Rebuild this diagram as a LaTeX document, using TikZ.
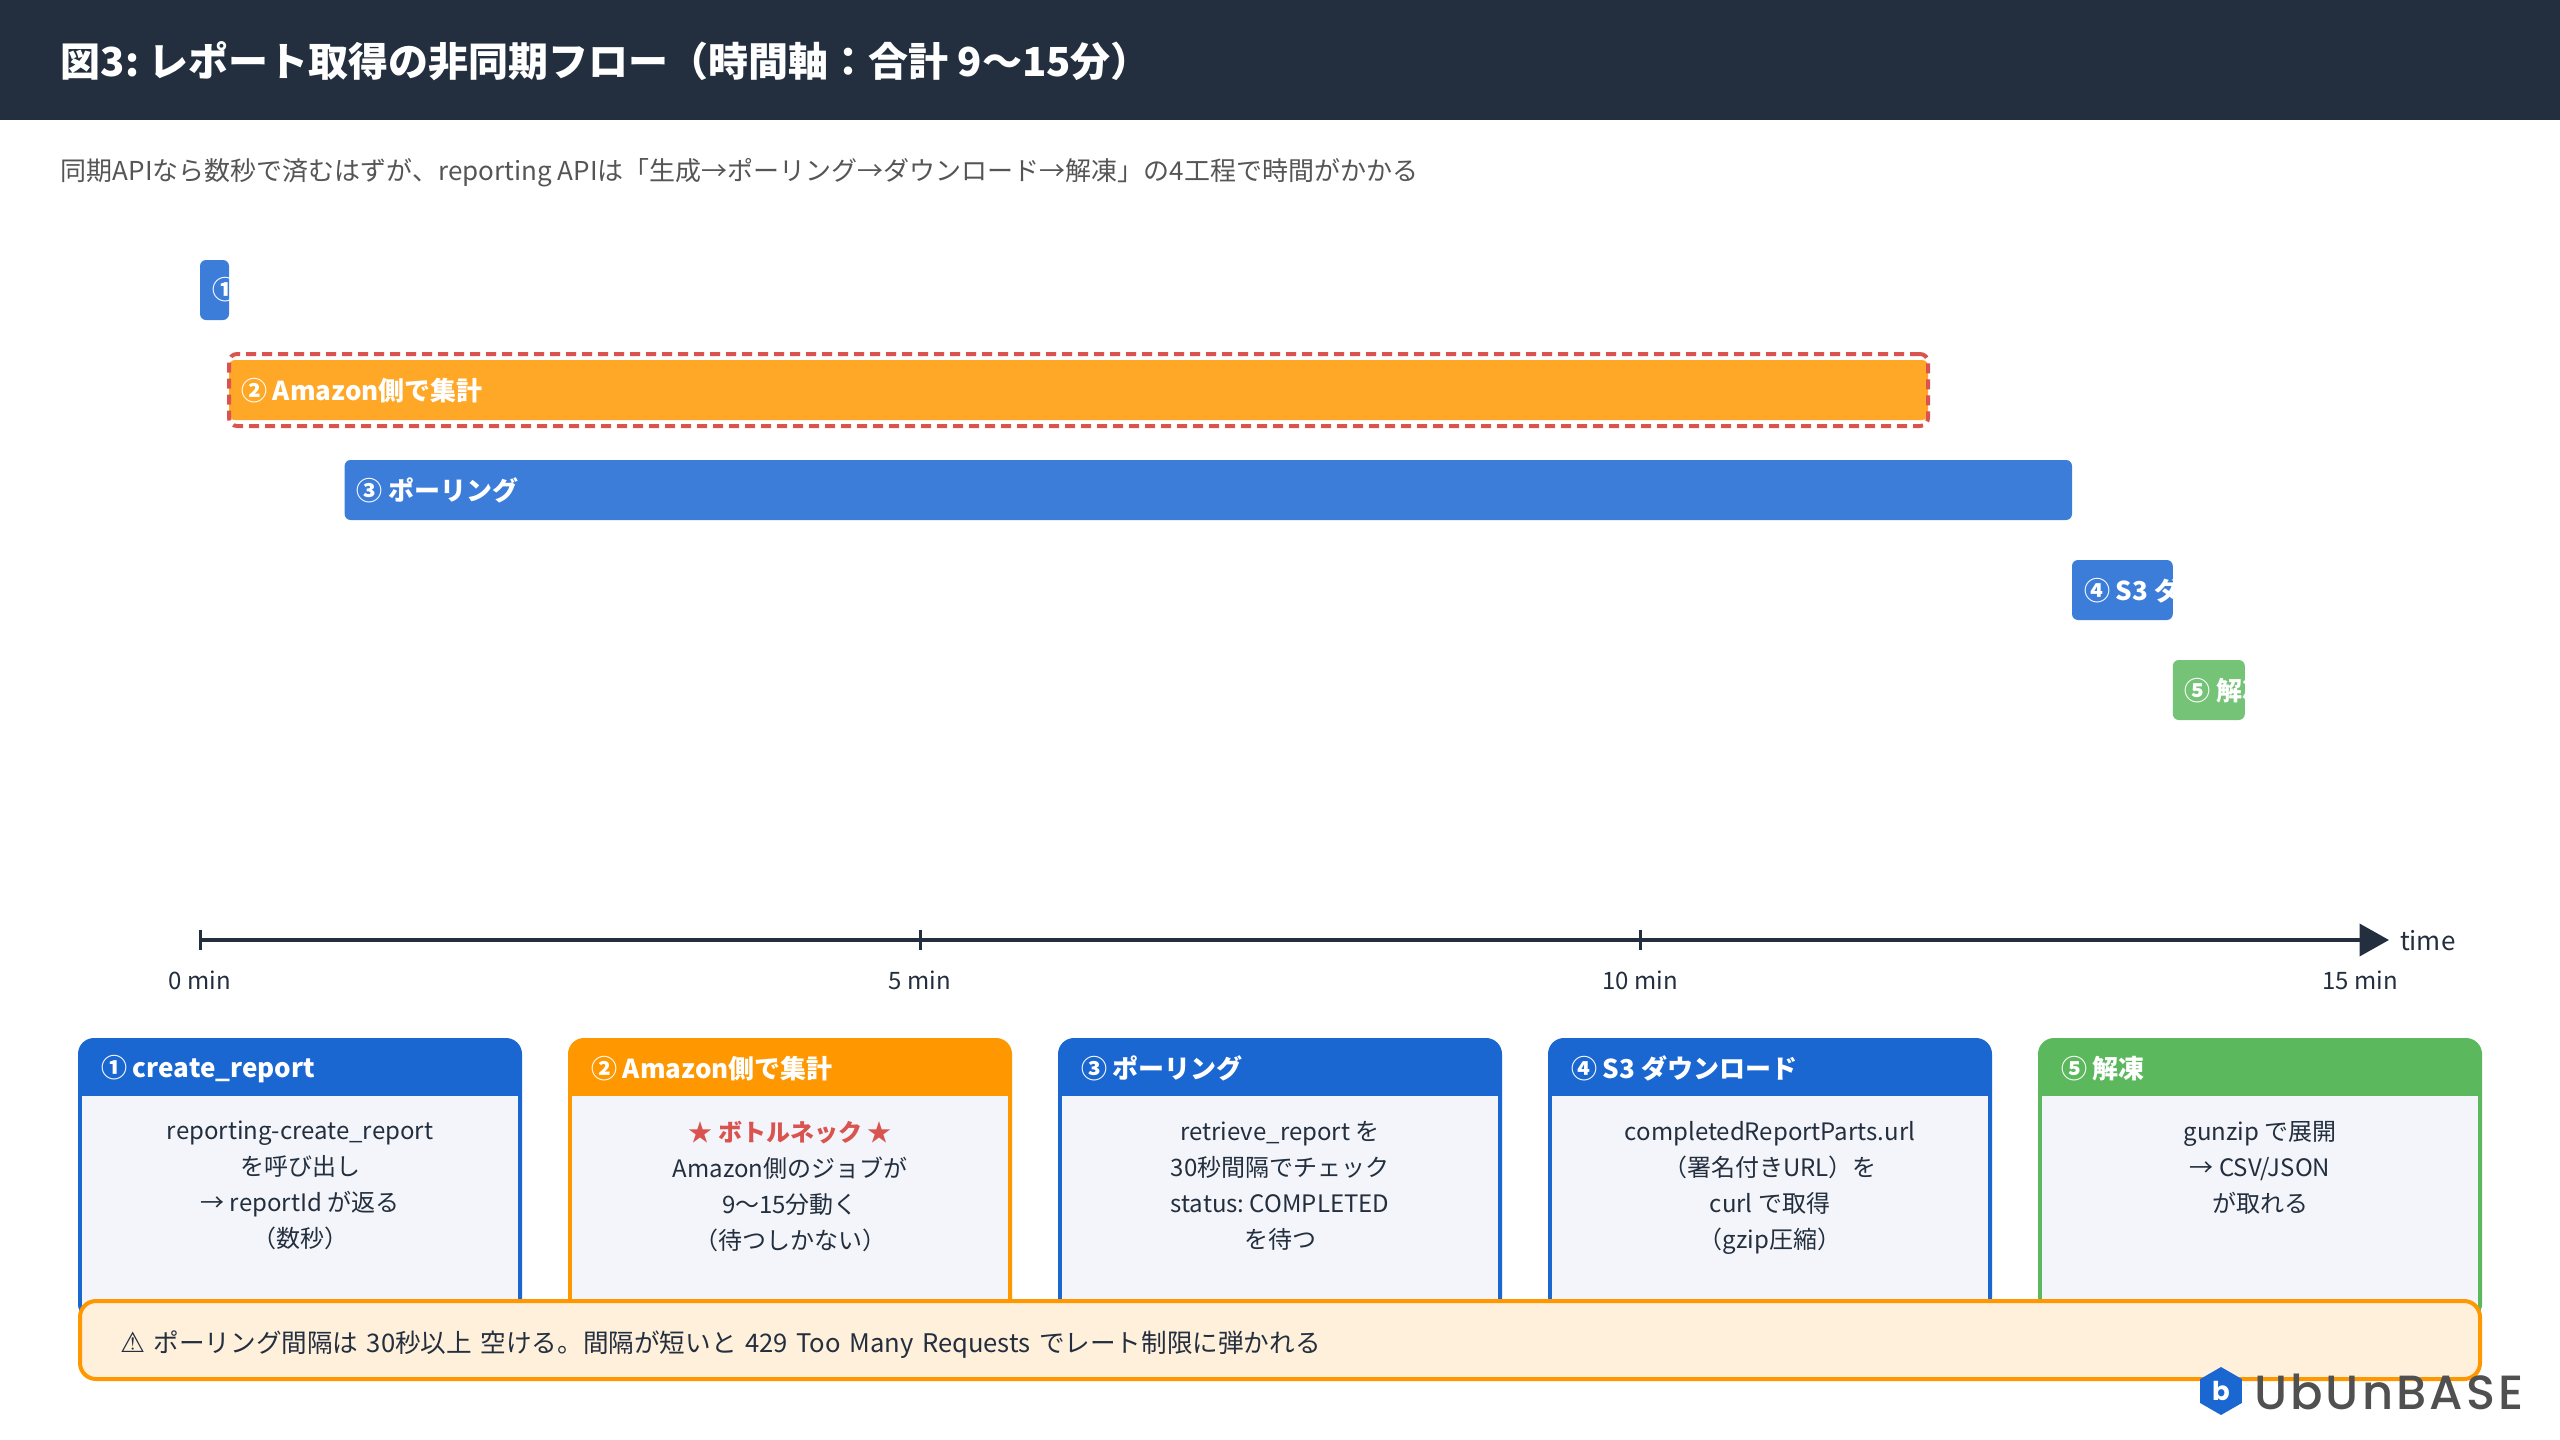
\documentclass[tikz,border=0pt]{standalone}
\usepackage{fontspec}
\usepackage{xcolor}
\usepackage{tikz}
\usetikzlibrary{shapes.geometric,arrows.meta,positioning,fit}
\setmainfont{Noto Sans CJK JP}
\newfontfamily\symfont{DejaVu Sans}
\newfontfamily\logofont{Poppins}
\newfontfamily\wordfont[LetterSpace=6.5]{Poppins Medium}
\definecolor{headdark}{HTML}{232F3E}
\definecolor{subgrey}{HTML}{555555}
\definecolor{barblue}{HTML}{3C7DDA}
\definecolor{barorange}{HTML}{FFA726}
\definecolor{bargreen}{HTML}{74C376}
\definecolor{alertred}{HTML}{D9534F}
\definecolor{cardblue}{HTML}{1A67D2}
\definecolor{cardorange}{HTML}{FF9800}
\definecolor{cardgreen}{HTML}{5CB85C}
\definecolor{bodybg}{HTML}{F3F5FA}
\definecolor{notebg}{HTML}{FFF0DC}
\definecolor{logogrey}{HTML}{505050}
\newcommand{\barlabel}[2]{\node[barlabel] (#1) at ([xshift=6pt,yshift=-0.4pt]path picture bounding box.west) {#2};}

\begin{document}
\frenchspacing
\begin{tikzpicture}[x=1pt, y=-1pt, node distance=23pt, outer sep=0pt]
\tikzstyle{headband} = [rectangle, fill=headdark, minimum width=1280pt, minimum height=60pt, inner sep=0pt, anchor=north west]
\tikzstyle{titletext} = [anchor=west, inner sep=0pt, text=white, font=\fontsize{20}{24}\selectfont\bfseries]
\tikzstyle{subtext} = [anchor=west, inner sep=0pt, text=subgrey, font=\fontsize{13}{16}\selectfont]
\tikzstyle{bar} = [rectangle, rounded corners=3pt, minimum height=30pt, inner sep=0pt, anchor=west]
\tikzstyle{barlabel} = [anchor=west, inner sep=0pt, minimum width=0pt, minimum height=0pt, text=white, font=\fontsize{13}{16}\selectfont\bfseries]
\tikzstyle{bottleneck} = [rectangle, draw=alertred, line width=2pt, dash pattern=on 5pt off 3pt, rounded corners=4pt, inner xsep=0pt, inner ysep=3pt]
\tikzstyle{axisline} = [draw=headdark, line width=2pt, -{Triangle[length=14.75pt,width=16pt]}]
\tikzstyle{axistick} = [draw=headdark, line width=1.5pt]
\tikzstyle{axislabel} = [inner sep=0pt, text=headdark, font=\fontsize{12}{14}\selectfont]
\tikzstyle{card} = [rectangle, rounded corners=8pt, minimum width=222pt, minimum height=141pt]
\tikzstyle{cardbody} = [rectangle, fill=bodybg, minimum width=218pt, minimum height=108pt, anchor=north, inner sep=0pt]
\tikzstyle{cardhead} = [anchor=west, inner sep=0pt, text=white, font=\fontsize{13}{16}\selectfont\bfseries]
\tikzstyle{cardtext} = [anchor=north, inner sep=0pt, align=center, text=headdark, font=\fontsize{12}{18}\selectfont]
\tikzstyle{notebox} = [rectangle, draw=cardorange, fill=notebg, line width=2pt, rounded corners=8pt, minimum width=1200pt, minimum height=39pt, inner xsep=20pt, text width=1160pt, text height=14pt, text depth=2pt, align=left, text=headdark, font=\fontsize{12.8}{16}\selectfont]
\tikzstyle{logomark} = [regular polygon, regular polygon sides=6, shape border rotate=30, fill=cardblue, minimum size=24pt, inner sep=0pt, text=white, font=\logofont\fontsize{13}{13}\selectfont\bfseries]
\tikzstyle{logotext} = [anchor=west, inner sep=0pt, text=logogrey, font=\wordfont\fontsize{24}{24}\selectfont]

\useasboundingbox (0,0) rectangle (1280,720);

\node [headband] (header) at (0,0) {};
\node [titletext] (title) at (30.5,30.6) {図3: レポート取得の非同期フロー（時間軸：合計 9〜15分）};
\node [subtext] (subtitle) at (30.5,86.5) {同期APIなら数秒で済むはずが、reporting APIは「生成→ポーリング→ダウンロード→解凍」の4工程で時間がかかる};

\node [bar, fill=barblue, minimum width=14.5pt, path picture={\barlabel{lab1}{① create\_report}}] (bar1) at (100,145) {};
\node [bar, fill=barorange, minimum width=849.5pt, path picture={\barlabel{lab2}{② Amazon側で集計}}] (bar2) at (114.5,195) {};
\node [bottleneck, fit=(bar2)] (bar2mark) {};
\node [bar, fill=barblue, minimum width=863.7pt, path picture={\barlabel{lab3}{③ ポーリング}}] (bar3) at (172.3,245) {};
\node [bar, fill=barblue, minimum width=50.4pt, path picture={\barlabel{lab4}{④ S3 ダウンロード}}] (bar4) at (1036,295) {};
\node [bar, fill=bargreen, minimum width=36pt, path picture={\barlabel{lab5}{⑤ 解凍}}] (bar5) at (1086.4,345) {};

\coordinate (axisstart) at (100,470);
\coordinate (axisend) at (1194.5,470);
\draw [axisline] (axisstart) -- (axisend);
\coordinate (tick5) at (460,470);
\coordinate (tick10) at (820,470);
\draw [axistick] ([yshift=5pt]axisstart) -- ([yshift=-5pt]axisstart);
\draw [axistick] ([yshift=5pt]tick5) -- ([yshift=-5pt]tick5);
\draw [axistick] ([yshift=5pt]tick10) -- ([yshift=-5pt]tick10);
\node [axislabel] (min0) at (100,490.3) {0 min};
\node [axislabel] (min5) at (460,490.3) {5 min};
\node [axislabel] (min10) at (820,490.3) {10 min};
\node [axislabel] (min15) at (1180,490.3) {15 min};
\node [axislabel, anchor=west, font=\fontsize{13}{16}\selectfont] (timelabel) at (1200,470.4) {time};

\node [card, fill=cardblue] (card1) at (150,589.5) {};
\node [card, fill=cardorange, right=of card1] (card2) {};
\node [card, fill=cardblue, right=of card2] (card3) {};
\node [card, fill=cardblue, right=of card3] (card4) {};
\node [card, fill=cardgreen, right=of card4] (card5) {};

\node [cardbody] (body1) at ([yshift=-29pt]card1.north) {};
\node [cardbody] (body2) at ([yshift=-29pt]card2.north) {};
\node [cardbody] (body3) at ([yshift=-29pt]card3.north) {};
\node [cardbody] (body4) at ([yshift=-29pt]card4.north) {};
\node [cardbody] (body5) at ([yshift=-29pt]card5.north) {};

\node [cardhead] (head1) at ([xshift=11.5pt,yshift=-15.4pt]card1.north west) {① create\_report};
\node [cardhead] (head2) at ([xshift=11.5pt,yshift=-15.4pt]card2.north west) {② Amazon側で集計};
\node [cardhead] (head3) at ([xshift=11.5pt,yshift=-15.4pt]card3.north west) {③ ポーリング};
\node [cardhead] (head4) at ([xshift=11.5pt,yshift=-15.4pt]card4.north west) {④ S3 ダウンロード};
\node [cardhead] (head5) at ([xshift=11.5pt,yshift=-15.4pt]card5.north west) {⑤ 解凍};

\node [cardtext] (text1) at ([yshift=-12.6pt]body1.north) {reporting-create\_report\\を呼び出し\\→ reportId が返る\\（数秒）};
\node [cardtext] (text2) at ([yshift=-12.6pt]body2.north) {\textcolor{alertred}{\bfseries ★ ボトルネック ★}\\Amazon側のジョブが\\9〜15分動く\\（待つしかない）};
\node [cardtext] (text3) at ([yshift=-12.6pt]body3.north) {retrieve\_report を\\30秒間隔でチェック\\status: COMPLETED\\を待つ};
\node [cardtext] (text4) at ([yshift=-12.6pt]body4.north) {completedReportParts.url\\（署名付きURL）を\\curl で取得\\（gzip圧縮）};
\node [cardtext] (text5) at ([yshift=-12.6pt]body5.north) {gunzip で展開\\→ CSV/JSON\\が取れる};

\node [notebox] (note) at (640,670) {{\symfont\fontsize{14}{16}\selectfont ⚠} ポーリング間隔は 30秒以上 空ける。間隔が短いと 429 Too Many Requests でレート制限に弾かれる};

\node [logomark] (logohex) at (1110.5,695.5) {b};
\node [logotext] (logoname) at (1127,696) {UbUnBASE};
\end{tikzpicture}
\end{document}
